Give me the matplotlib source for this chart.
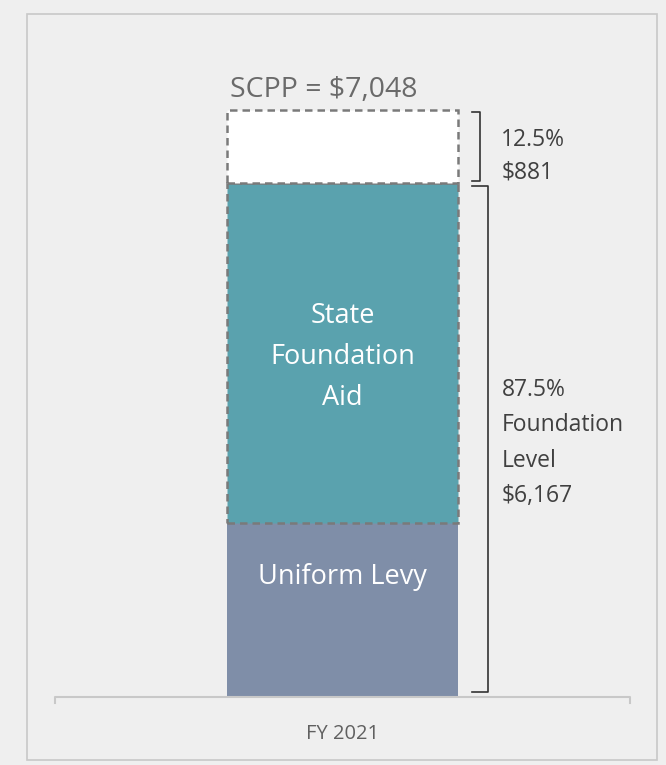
import matplotlib
matplotlib.use("Agg")
import matplotlib.pyplot as plt
from matplotlib.patches import Rectangle

categories = ["FY 2021"]
uniform_levy = [2084]
state_aid = [4083]
gap = [881]
scpp = 7048
foundation = 6167
pct_gap = "12.5%"
pct_found = "87.5%"

plt.rcParams['font.family'] = ['Open Sans', 'DejaVu Sans']

W, H = 666, 765
fig = plt.figure(figsize=(W/100, H/100), dpi=100)
fig.patch.set_facecolor('#efefef')
fig.patches.append(Rectangle((27/W, 1-760/H), (657-27)/W, (760-14)/H, transform=fig.transFigure,
                             fill=False, edgecolor='#c8c8c8', linewidth=1.2))

ax_bottom = 697
ax_top = 14
ax = fig.add_axes([55/W, 1-ax_bottom/H, 575/W, (ax_bottom-ax_top)/H])
ax.set_facecolor('none')
ymax = scpp * (ax_bottom-ax_top) / (ax_bottom-110)
ax.set_ylim(0, ymax)
ax.set_xlim(-0.5, 0.5)
for s in ax.spines.values():
    s.set_visible(False)
ax.set_xticks([]); ax.set_yticks([])

x = [0]
bw = 0.402
ax.bar(x, uniform_levy, width=bw, color='#7f8ea8', linewidth=0)
ax.bar(x, state_aid, bottom=uniform_levy, width=bw, color='#5aa2ae',
       edgecolor='#7a7a7a', linestyle=(0, (3, 2)), linewidth=1.8)
ax.bar(x, gap, bottom=[uniform_levy[0]+state_aid[0]], width=bw, color='white',
       edgecolor='#7a7a7a', linestyle=(0, (3, 2)), linewidth=1.8)

# axis line with end ticks
ax.plot([-0.5, -0.5, 0.5, 0.5], [-ymax*0.009, 0, 0, -ymax*0.009], color='#c8c8c8',
        linewidth=1.5, clip_on=False, transform=ax.transData)

# labels inside bars
ax.text(0, 4082, "State\nFoundation\nAid", ha='center', va='center',
        color='white', fontsize=19.5, linespacing=1.62)
ax.text(0, 1441, "Uniform Levy", ha='center', va='center', color='white', fontsize=19.5)

ax.text(-0.195, scpp + 70, f"SCPP = ${scpp:,}", ha='left', va='bottom', color='#6a6a6a',
        fontsize=20.5)

# brackets
def bracket(y0, y1, x0, x1):
    ax.plot([x0, x1, x1, x0], [y1, y1, y0, y0], color='#333333', linewidth=1.2, clip_on=False)

bracket(foundation + 30, scpp - 30, 0.225, 0.239)
bracket(60, foundation - 30, 0.225, 0.253)

ax.text(0.276, 6490, f"{pct_gap}\n${gap[0]:,}", ha='left', va='center',
        color='#404040', fontsize=16.5, linespacing=1.5)
ax.text(0.277, 3050, f"{pct_found}\nFoundation\nLevel\n${foundation:,}", ha='left', va='center',
        color='#404040', fontsize=16.5, linespacing=1.62)

ax.text(0, -ymax*0.054, categories[0], ha='center', va='center', color='#606060', fontsize=14.5)

fig.savefig("out.png", dpi=100, facecolor=fig.get_facecolor())
